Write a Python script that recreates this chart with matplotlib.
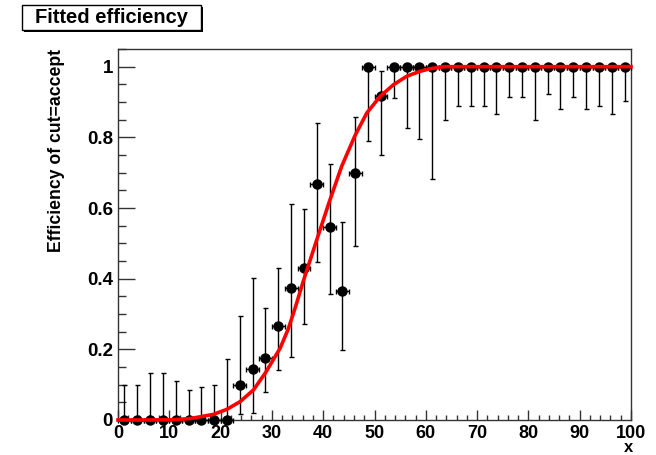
import numpy as np
import matplotlib
matplotlib.use("Agg")
import matplotlib.pyplot as plt
from matplotlib.patches import Rectangle
from matplotlib.ticker import MultipleLocator

plt.rcParams['font.family'] = ['Liberation Sans', 'DejaVu Sans']
plt.rcParams['font.weight'] = 'bold'

## binned efficiency, 40 bins of width 2.5 between 0 and 100
bin_centers = np.arange(40) * 2.5 + 1.25
bin_halfwidth = 1.25

eff = [0, 0, 0, 0, 0, 0, 0, 0, 0,
       0.100, 0.143, 0.176, 0.267, 0.375, 0.429, 0.667, 0.545, 0.364,
       0.700, 1.0, 0.917,
       1, 1, 1, 1, 1, 1, 1, 1, 1, 1, 1, 1, 1, 1, 1, 1, 1, 1, 1]

eff_low = [0, 0, 0, 0, 0, 0, 0, 0, 0,
           0.016, 0.021, 0.080, 0.142, 0.178, 0.272, 0.446, 0.356, 0.198,
           0.493, 0.790, 0.749,
           0.911, 0.826, 0.796, 0.682, 0.849, 0.890, 0.890, 0.890, 0.866,
           0.915, 0.915, 0.849, 0.923, 0.879, 0.915, 0.879, 0.890, 0.866,
           0.902]

eff_high = [0.099, 0.098, 0.134, 0.134, 0.109, 0.084, 0.093, 0.098, 0.174,
            0.293, 0.401, 0.318, 0.430, 0.611, 0.597, 0.840, 0.724, 0.559,
            0.857, 1.0, 0.987,
            1, 1, 1, 1, 1, 1, 1, 1, 1, 1, 1, 1, 1, 1, 1, 1, 1, 1, 1]

## fitted efficiency curve
fit_x = [0, 5, 10, 12, 14, 16, 18.6, 21.2, 23.8, 26.4, 28.8, 31.6, 33.2,
         34.7, 36.1, 38.7, 41.2, 43.6, 46.2, 48.5, 51.1, 53.7, 56.3, 58.9,
         60.8, 63.4, 70, 80, 90, 100]
fit_y = [0, 0, 0.0005, 0.002, 0.004, 0.009, 0.016, 0.030, 0.052, 0.085,
         0.135, 0.203, 0.258, 0.325, 0.392, 0.508, 0.618, 0.718, 0.805,
         0.869, 0.916, 0.949, 0.973, 0.987, 0.994, 1.0, 1.0, 1.0, 1.0, 1.0]


def plot_efficiency():
    """
    Draws the binned efficiency with asymmetric errors and the fitted curve
    """
    fig = plt.figure(figsize=(6.56, 4.55), dpi=100)
    ax = fig.add_axes([118 / 656, 35 / 455, 513 / 656, 371 / 455])

    eff_arr = np.array(eff)
    yerr = [eff_arr - np.array(eff_low), np.array(eff_high) - eff_arr]

    ax.errorbar(bin_centers, eff, xerr=bin_halfwidth, yerr=yerr,
                fmt='o', color='black', markersize=6.5, elinewidth=1,
                capsize=1.8, capthick=1, zorder=3, clip_on=False)
    ax.plot(fit_x, fit_y, color='red', linewidth=2.6, zorder=4,
            clip_on=False)

    ax.set_xlim(0, 100)
    ax.set_ylim(0, 1.05)
    ax.xaxis.set_major_locator(MultipleLocator(10))
    ax.xaxis.set_minor_locator(MultipleLocator(2))
    ax.yaxis.set_minor_locator(MultipleLocator(0.05))
    ax.set_yticks([0, 0.2, 0.4, 0.6, 0.8, 1.0])
    ax.set_yticklabels(['0', '0.2', '0.4', '0.6', '0.8', '1'])

    ax.tick_params(axis='both', which='both', direction='in',
                   top=False, right=False, color='#333333')
    ax.tick_params(axis='y', which='major', length=12.2, width=1, pad=3.6,
                   labelsize=13.5)
    ax.tick_params(axis='y', which='minor', length=5.8, width=1)
    ax.tick_params(axis='x', which='major', length=7.2, width=1, pad=3.4,
                   labelsize=13)
    ax.tick_params(axis='x', which='minor', length=3.6, width=1)
    for lab in ax.get_xticklabels() + ax.get_yticklabels():
        lab.set_fontweight('bold')
    for sp in ax.spines.values():
        sp.set_linewidth(1)
        sp.set_color('#333333')

    ## axis titles, ROOT style (aligned to the axis ends)
    fig.text(633 / 656, 1 - 452.5 / 455, "x", ha='right', va='baseline',
             fontsize=12, fontweight='bold')
    fig.text(57 / 656, 1 - 49 / 455, "Efficiency of cut=accept",
             rotation=90, ha='center', va='top', fontsize=12.7,
             fontweight='bold')

    ## title box with shadow
    fig.patches.append(Rectangle((24 / 656, 1 - 32 / 455), 179 / 656,
                                 25 / 455, transform=fig.transFigure,
                                 facecolor='black', edgecolor='none'))
    fig.patches.append(Rectangle((22 / 656, 1 - 30 / 455), 179 / 656,
                                 25 / 455, transform=fig.transFigure,
                                 facecolor='white', edgecolor='black',
                                 linewidth=1))
    fig.text(111 / 656, 1 - 17.5 / 455, "Fitted efficiency", ha='center',
             va='center', fontsize=14.5, fontweight='bold')

    fig.savefig("out.png", dpi=100, facecolor='white')


if __name__ == "__main__":
    plot_efficiency()
